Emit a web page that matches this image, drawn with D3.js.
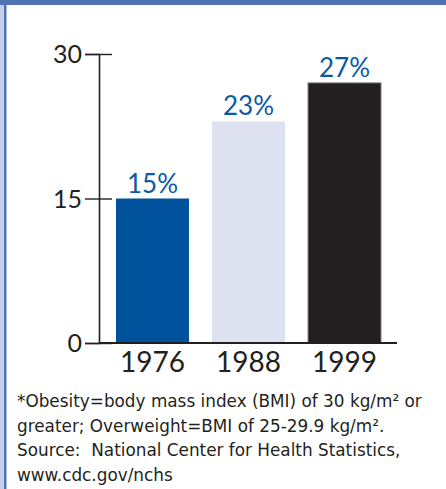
<!DOCTYPE html>
<html>
<head>
<meta charset="utf-8">
<script src="https://cdn.jsdelivr.net/npm/d3@7"></script>
<style>
  html, body { margin: 0; padding: 0; background: #fff; }
  svg { display: block; }
  .fn text { white-space: pre; }
</style>
</head>
<body>
<script>
// Obesity prevalence by survey year
const years = ["1976", "1988", "1999"];
const values = [15, 23, 27];
const valueLabels = ["15%", "23%", "27%"];
const barColors = ["#00529c", "#dde1f0", "#231f20"];
const yTicks = [0, 15, 30];
const footnote = [
  "*Obesity=body mass index (BMI) of 30 kg/m\u00B2 or",
  "greater; Overweight=BMI of 25-29.9 kg/m\u00B2.",
  "Source:  National Center for Health Statistics,",
  "www.cdc.gov/nchs"
];

const W = 446, H = 489;
const font = "Lato, 'Open Sans', sans-serif";
const noteFont = "'DejaVu Sans', sans-serif";
const ink = "#231f20";

const svg = d3.select("body").append("svg")
  .attr("width", W).attr("height", H);

// frame: top band and left rule
svg.append("rect").attr("x", 0).attr("y", 0).attr("width", 4).attr("height", H).attr("fill", "#c6cee8");
svg.append("rect").attr("x", 4).attr("y", 0).attr("width", 2.5).attr("height", H).attr("fill", "#5173b5");
svg.append("rect").attr("x", 0).attr("y", 0).attr("width", W).attr("height", 5).attr("fill", "#5173b5");

const y = d3.scaleLinear().domain([0, 30]).range([343, 54]);
const x = d3.scaleBand().domain(years)
  .range([104.5, 392.5]).paddingInner(0.24).paddingOuter(0.12);

const axisX = 99;

// bars
svg.selectAll("rect.bar").data(years).join("rect")
  .attr("class", "bar")
  .attr("x", d => x(d))
  .attr("width", x.bandwidth())
  .attr("y", (d, i) => y(values[i]))
  .attr("height", (d, i) => y(0) - y(values[i]))
  .attr("fill", (d, i) => barColors[i])
  .attr("stroke", (d, i) => i === 2 ? "#7a7a7c" : "none")
  .attr("stroke-width", 1);

// value labels
svg.selectAll("text.val").data(years).join("text")
  .attr("class", "val")
  .attr("x", d => x(d) + x.bandwidth() / 2)
  .attr("y", (d, i) => y(values[i]) - 6)
  .attr("text-anchor", "middle")
  .attr("font-family", font)
  .attr("font-size", 26)
  .attr("fill", "#0a58a6")
  .text((d, i) => valueLabels[i]);

// y axis
const yAxis = d3.axisLeft(y).tickValues(yTicks).tickSize(14).tickPadding(3);
const gy = svg.append("g").attr("transform", `translate(${axisX},0)`).call(yAxis);
gy.select(".domain").attr("stroke", ink).attr("stroke-width", 1.6);
gy.selectAll(".tick line").attr("stroke", ink).attr("stroke-width", 1.4)
  .attr("x1", 13).attr("x2", -14);
gy.selectAll(".tick text")
  .attr("font-family", font).attr("font-size", 25).attr("fill", ink)
  .attr("dy", "0.34em");

// x axis baseline and year labels
const xAxis = d3.axisBottom(x).tickSize(0).tickPadding(10);
const gx = svg.append("g").attr("transform", `translate(0,${y(0)})`).call(xAxis);
gx.select(".domain").attr("d", `M${axisX},0H397`).attr("stroke", ink).attr("stroke-width", 2.2);
gx.selectAll(".tick text")
  .attr("font-family", font).attr("font-size", 28).attr("fill", ink)
  .attr("dy", "0.71em").attr("y", 9);

// footnote
const fn = svg.append("g").attr("class", "fn").attr("font-family", noteFont).attr("fill", ink);
const lines = fn.selectAll("text").data(footnote).join("text")
  .attr("x", 17)
  .attr("y", (d, i) => 407 + i * 24.5)
  .attr("font-size", 16)
  .text(d => d);
// size the footnote so the first line spans the text column
const w0 = lines.node().getComputedTextLength();
const fs = 16 * 405 / w0;
lines.attr("font-size", fs);
</script>
</body>
</html>
